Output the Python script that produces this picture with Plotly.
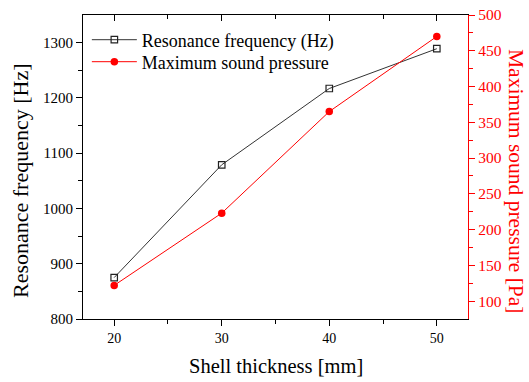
import plotly.graph_objects as go

thickness = [20, 30, 40, 50]
resonance_freq = [875, 1079, 1217, 1289]
max_pressure = [122, 223, 365, 470]

FONT = "Liberation Serif"
L, R, T, B = 83, 61, 15, 63
W, H = 529, 382
PW, PH = W - L - R, H - T - B


def px(x):
    return (x - L) / PW


def py(y):
    return (H - B - y) / PH


fig = go.Figure()
fig.add_trace(go.Scatter(
    x=thickness, y=resonance_freq, name="Resonance frequency (Hz)",
    mode="lines+markers",
    line=dict(color="#333333", width=1),
    marker=dict(symbol="square-open", size=6.5, color="#222222", line=dict(width=1.2)),
    xaxis="x", yaxis="y", legend="legend"))
fig.add_trace(go.Scatter(
    x=thickness, y=max_pressure, name="Maximum sound pressure",
    mode="lines+markers",
    line=dict(color="#ff0000", width=1),
    marker=dict(symbol="circle", size=7.5, color="#ff0000"),
    xaxis="x", yaxis="y2", legend="legend2"))
# dummy trace to activate top mirror axis
fig.add_trace(go.Scatter(x=[None], y=[None], xaxis="x2", yaxis="y",
                         showlegend=False, hoverinfo="skip"))

leg_common = dict(xanchor="left", yanchor="middle", bgcolor="rgba(0,0,0,0)",
                  font=dict(size=18, family=FONT), itemwidth=45)

fig.update_layout(
    width=W, height=H,
    margin=dict(l=L, r=R, t=T, b=B, autoexpand=False),
    paper_bgcolor="white", plot_bgcolor="white",
    font=dict(family=FONT, color="black", size=15),
    showlegend=True,
    legend=dict(x=0.01, y=py(40), **leg_common),
    legend2=dict(x=0.01, y=py(62), **leg_common),
    xaxis=dict(range=[17.1, 52.9], tickvals=[20, 30, 40, 50],
               ticks="outside", ticklen=6, tickwidth=1, tickcolor="black",
               minor=dict(tickvals=[25, 35, 45], ticks="outside", ticklen=4, tickcolor="black"),
               showline=True, linecolor="black", linewidth=1.2,
               showgrid=False, zeroline=False, tickfont=dict(size=14)),
    xaxis2=dict(range=[17.1, 52.9], overlaying="x", side="top",
                tickvals=[20, 30, 40, 50], ticks="inside", ticklen=6, tickcolor="black",
                minor=dict(tickvals=[25, 35, 45], ticks="inside", ticklen=4, tickcolor="black"),
                showticklabels=False, showline=True, linecolor="black", linewidth=1.2,
                showgrid=False, zeroline=False),
    yaxis=dict(range=[800, 1350], tickvals=[800, 900, 1000, 1100, 1200, 1300],
               ticks="outside", ticklen=6, tickcolor="black",
               minor=dict(tickvals=[850, 950, 1050, 1150, 1250], ticks="outside", ticklen=4, tickcolor="black"),
               showline=True, linecolor="black", linewidth=1.2,
               showgrid=False, zeroline=False, tickfont=dict(size=15)),
    yaxis2=dict(range=[75, 500], overlaying="y", side="right",
                tickvals=[100, 150, 200, 250, 300, 350, 400, 450, 500],
                ticks="outside", ticklen=6, tickcolor="#ff0000",
                minor=dict(tickvals=[125, 175, 225, 275, 325, 375, 425, 475], ticks="outside", ticklen=4, tickcolor="#ff0000"),
                showline=True, linecolor="#ff0000", linewidth=1.2,
                showgrid=False, zeroline=False,
                tickfont=dict(size=15.5, color="#ff0000")),
    annotations=[
        dict(text="Shell thickness [mm]", xref="paper", yref="paper",
             x=0.5, y=py(366), xanchor="center", yanchor="middle",
             showarrow=False, font=dict(size=20.5, color="black")),
        dict(text="Resonance frequency [Hz]", xref="paper", yref="paper",
             x=px(20), y=py(181), xanchor="center", yanchor="middle", textangle=-90,
             showarrow=False, font=dict(size=22, color="black")),
        dict(text="Maximum sound pressure [Pa]", xref="paper", yref="paper",
             x=px(516), y=py(181), xanchor="center", yanchor="middle", textangle=90,
             showarrow=False, font=dict(size=21.5, color="#ff0000")),
    ],
)

fig.write_html("out.html")
